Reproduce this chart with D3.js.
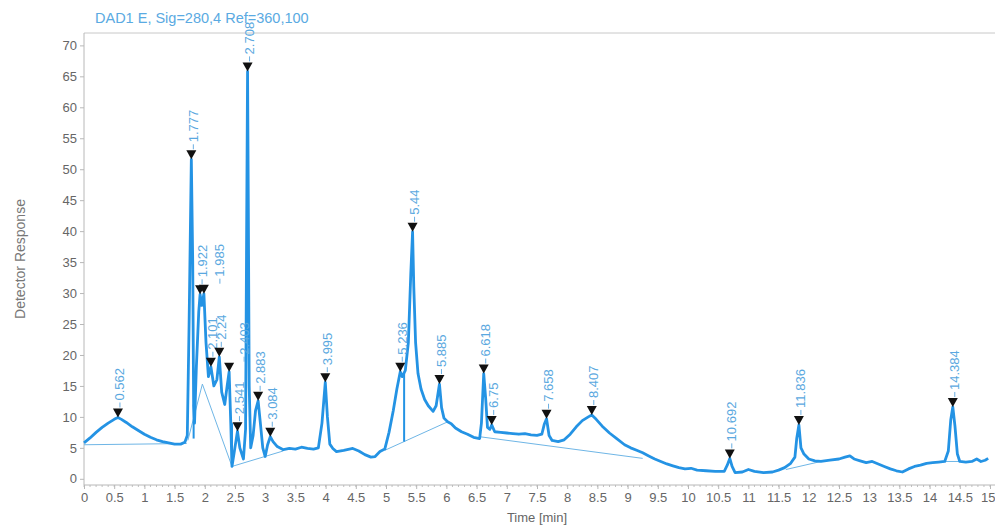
<!DOCTYPE html>
<html>
<head>
<meta charset="utf-8">
<script src="https://cdn.jsdelivr.net/npm/d3@7"></script>
<style>
  body { margin: 0; background: #fff; font-family: "Liberation Sans", Arial, sans-serif; }
  .axis path, .axis line { stroke: #b8b8b8; }
  .axis text { fill: #666; font-size: 13px; font-family: "Liberation Sans", Arial, sans-serif; }
</style>
</head>
<body>
<div id="chart"></div>
<script>
// chromatogram title / axis names
const titleText = "DAD1 E, Sig=280,4 Ref=360,100";
const xLabel = "Time [min]";
const yLabel = "Detector Response";

const xTickValues = d3.range(0, 15.01, 0.5);
const yTickValues = d3.range(0, 71, 5);

// detected peaks: retention time label, time, height
const peakLabels = ["0.562", "1.777", "1.922", "1.985", "2.101", "2.24", "2.403", "2.541", "2.708", "2.883", "3.084",
    "3.995", "5.236", "5.44", "5.885", "6.618", "6.75", "7.658", "8.407", "10.692", "11.836", "14.384"];
const peakTimes = [0.562, 1.777, 1.922, 1.985, 2.101, 2.24, 2.403, 2.541, 2.708, 2.883, 3.084,
    3.995, 5.236, 5.44, 5.885, 6.618, 6.75, 7.658, 8.407, 10.692, 11.836, 14.384];
const peakHeights = [9.9, 51.6, 29.8, 29.9, 18.1, 19.7, 17.3, 7.7, 65.8, 12.6, 6.8,
    15.6, 17.3, 39.9, 15.3, 17.0, 8.7, 9.7, 10.3, 3.3, 8.7, 11.6];

// signal trace [time, response]
const signal = [
    [0, 5.8], [0.1, 6.6], [0.2, 7.5], [0.3, 8.3], [0.4, 9.0], [0.5, 9.6], [0.562, 9.9], [0.62, 9.6], [0.7, 9.1],
    [0.8, 8.4], [0.9, 7.8], [1.0, 7.2], [1.1, 6.7], [1.2, 6.3], [1.3, 6.0], [1.4, 5.8], [1.5, 5.6], [1.6, 5.6],
    [1.67, 5.9], [1.71, 7.0], [1.74, 25], [1.777, 51.6], [1.8, 35], [1.815, 12], [1.83, 9], [1.86, 18], [1.9, 27],
    [1.922, 29.8], [1.95, 28], [1.985, 29.9], [2.02, 22], [2.06, 16.5], [2.101, 18.1], [2.15, 15], [2.2, 16],
    [2.24, 19.7], [2.28, 14], [2.33, 12], [2.37, 15], [2.403, 17.3], [2.43, 9], [2.45, 2.0], [2.49, 4.5],
    [2.541, 7.7], [2.58, 5], [2.64, 3.2], [2.675, 8], [2.69, 35], [2.708, 65.8], [2.72, 45], [2.735, 15],
    [2.76, 5], [2.8, 7], [2.84, 11], [2.883, 12.6], [2.92, 9], [2.96, 5], [3.0, 3.6], [3.04, 5.5], [3.084, 6.8],
    [3.13, 6], [3.2, 5.2], [3.3, 4.7], [3.4, 4.9], [3.5, 4.8], [3.6, 5.1], [3.7, 4.9], [3.8, 4.8], [3.88, 5.0],
    [3.94, 9], [3.995, 15.6], [4.03, 10], [4.07, 5.6], [4.12, 4.9], [4.18, 4.4], [4.3, 4.6], [4.45, 4.9],
    [4.55, 4.5], [4.65, 3.9], [4.75, 3.5], [4.82, 3.6], [4.9, 4.4], [4.98, 4.8], [5.05, 7.5], [5.12, 11],
    [5.18, 14.5], [5.236, 17.3], [5.27, 16.5], [5.32, 17.5], [5.37, 22], [5.41, 33], [5.44, 39.9], [5.46, 31],
    [5.49, 22], [5.53, 17], [5.58, 14.5], [5.64, 12.8], [5.7, 11.8], [5.78, 10.9], [5.83, 11.8], [5.885, 15.3],
    [5.92, 11.5], [5.96, 9.8], [6.02, 9.2], [6.08, 8.9], [6.15, 8.2], [6.25, 7.6], [6.35, 7.2], [6.45, 6.7],
    [6.55, 6.5], [6.58, 9], [6.618, 17.0], [6.65, 13], [6.68, 8.3], [6.72, 8.0], [6.75, 8.7], [6.8, 7.6],
    [6.9, 7.5], [7.0, 7.4], [7.1, 7.3], [7.2, 7.2], [7.3, 7.3], [7.4, 7.1], [7.5, 7.0], [7.58, 7.2], [7.62, 8.8],
    [7.658, 9.7], [7.7, 7.0], [7.75, 6.2], [7.85, 6.0], [7.95, 6.3], [8.05, 7.2], [8.15, 8.4], [8.25, 9.4],
    [8.35, 10.0], [8.407, 10.3], [8.48, 9.6], [8.58, 8.5], [8.7, 7.4], [8.82, 6.5], [8.95, 5.5], [9.05, 5.0],
    [9.15, 4.6], [9.25, 4.2], [9.35, 3.7], [9.45, 3.2], [9.55, 2.8], [9.65, 2.4], [9.75, 2.1], [9.85, 1.8],
    [9.95, 1.6], [10.05, 1.7], [10.15, 1.4], [10.3, 1.3], [10.45, 1.2], [10.6, 1.2], [10.65, 2.2], [10.692, 3.3],
    [10.73, 2.0], [10.78, 1.0], [10.9, 1.1], [11.0, 1.5], [11.1, 1.2], [11.25, 1.0], [11.4, 1.1], [11.5, 1.4],
    [11.6, 1.8], [11.7, 2.5], [11.77, 3.5], [11.8, 6.5], [11.836, 8.7], [11.87, 5], [11.92, 4.0], [12.0, 3.2],
    [12.1, 2.9], [12.2, 2.8], [12.35, 3.0], [12.5, 3.2], [12.6, 3.5], [12.68, 3.7], [12.75, 3.2], [12.85, 2.9],
    [12.95, 2.6], [13.05, 2.8], [13.15, 2.4], [13.25, 2.0], [13.35, 1.6], [13.45, 1.3], [13.55, 1.1], [13.65, 1.6],
    [13.75, 2.0], [13.85, 2.2], [13.95, 2.5], [14.05, 2.6], [14.15, 2.7], [14.25, 2.8], [14.31, 4.5], [14.35, 9.5],
    [14.384, 11.6], [14.42, 8.5], [14.46, 4], [14.5, 2.8], [14.6, 2.7], [14.7, 2.8], [14.78, 3.2], [14.85, 2.8],
    [14.92, 3.0], [14.97, 3.3]
];

// integration baselines (thin lines)
const baselines = [
    [[0, 5.5], [1.7, 5.7]],
    [[1.72, 6.2], [1.96, 15.3], [2.45, 2.0]],
    [[2.45, 2.0], [3.3, 4.5]],
    [[4.98, 4.6], [6.02, 9.2]],
    [[6.55, 6.8], [9.25, 3.3]],
    [[11.62, 1.5], [12.2, 2.8]],
    [[14.25, 2.8], [14.55, 2.8]]
];

// valley drop lines [time, top, bottom]
const dropLines = [
    [5.3, 17, 6.0],
    [1.815, 12, 6.5],
    [2.45, 9, 2.0]
];

const width = 995, height = 527;
const margin = { top: 33, right: 5, bottom: 42, left: 84 };

const svg = d3.select("#chart").append("svg")
    .attr("width", width)
    .attr("height", height);

const x = d3.scaleLinear()
    .domain([0, 15])
    .range([margin.left, 990]);

const y = d3.scaleLinear()
    .domain([-1, 72])
    .range([height - margin.bottom, margin.top]);

// frame top line
svg.append("line")
    .attr("x1", margin.left).attr("x2", width)
    .attr("y1", margin.top).attr("y2", margin.top)
    .attr("stroke", "#c8c8c8");

// minor ticks on x axis
svg.append("g")
    .selectAll("line")
    .data(d3.range(0, 15.01, 0.1))
    .join("line")
    .attr("x1", d => x(d)).attr("x2", d => x(d))
    .attr("y1", y(-1)).attr("y2", y(-1) + 2)
    .attr("stroke", "#c0c0c0");

const xAxis = d3.axisBottom(x)
    .tickValues(xTickValues)
    .tickSize(4)
    .tickPadding(4)
    .tickFormat(d3.format("~g"));

svg.append("g")
    .attr("class", "x-axis axis")
    .attr("transform", "translate(0," + y(-1) + ")")
    .call(xAxis)
    .call(g => g.select(".domain").attr("d", "M" + margin.left + ",0H" + width))
    // last label sits at the right edge, keep it inside
    .call(g => g.selectAll(".tick text").filter(d => d === 15).attr("text-anchor", "end").attr("x", 5));

const yAxis = d3.axisLeft(y)
    .tickValues(yTickValues)
    .tickSize(4)
    .tickPadding(3);

svg.append("g")
    .attr("class", "y-axis axis")
    .attr("transform", "translate(" + margin.left + ",0)")
    .call(yAxis)
    .call(g => g.select(".domain").attr("d", "M0," + margin.top + "V" + y(-1)));

// axis labels and title
svg.append("text")
    .attr("x", (margin.left + 990) / 2)
    .attr("y", 522)
    .attr("text-anchor", "middle")
    .style("font-size", "13px")
    .style("fill", "#666")
    .text(xLabel);

svg.append("text")
    .attr("transform", "rotate(-90)")
    .attr("x", -(margin.top + y(-1)) / 2)
    .attr("y", 25)
    .attr("text-anchor", "middle")
    .style("font-size", "14px")
    .style("fill", "#777")
    .text(yLabel);

svg.append("text")
    .attr("x", 95)
    .attr("y", 23)
    .style("font-size", "14.5px")
    .style("fill", "#5aaae2")
    .text(titleText);

const line = d3.line()
    .x(d => x(d[0]))
    .y(d => y(d[1]));

const plot = svg.append("g");

// baselines
plot.selectAll(".baseline")
    .data(baselines)
    .join("path")
    .attr("class", "baseline")
    .attr("d", line)
    .attr("fill", "none")
    .attr("stroke", "#6fb6e6")
    .attr("stroke-width", 1);

// drop lines
plot.selectAll(".drop")
    .data(dropLines)
    .join("line")
    .attr("class", "drop")
    .attr("x1", d => x(d[0])).attr("x2", d => x(d[0]))
    .attr("y1", d => y(d[1])).attr("y2", d => y(d[2]))
    .attr("stroke", "#2493e4")
    .attr("stroke-width", 2);

// signal
plot.append("path")
    .datum(signal)
    .attr("d", line)
    .attr("fill", "none")
    .attr("stroke", "#2493e4")
    .attr("stroke-width", 2.8)
    .attr("stroke-linejoin", "round");

// peak markers and labels
const peaks = peakTimes.map((t, i) => ({ t: t, h: peakHeights[i], label: peakLabels[i] }));

// crowded labels are nudged sideways like in the instrument software
const labelNudge = { "1.985": 14, "2.403": 13 };

const pk = plot.selectAll(".peak")
    .data(peaks)
    .join("g")
    .attr("class", "peak")
    .attr("transform", d => "translate(" + x(d.t) + "," + y(d.h) + ")");

pk.append("path")
    .attr("d", "M-5,-9L5,-9L0,0Z")
    .attr("fill", "#111");

pk.append("line")
    .attr("x1", d => 2 + (labelNudge[d.label] || 0))
    .attr("x2", d => 2 + (labelNudge[d.label] || 0))
    .attr("y1", -10).attr("y2", -15)
    .attr("stroke", "#6aaee2");

pk.append("text")
    .attr("transform", d => "translate(" + (3 + (labelNudge[d.label] || 0)) + ",-17) rotate(-90)")
    .attr("dominant-baseline", "middle")
    .style("font-size", "13px")
    .style("fill", "#5aa8e0")
    .text(d => d.label);
</script>
</body>
</html>
